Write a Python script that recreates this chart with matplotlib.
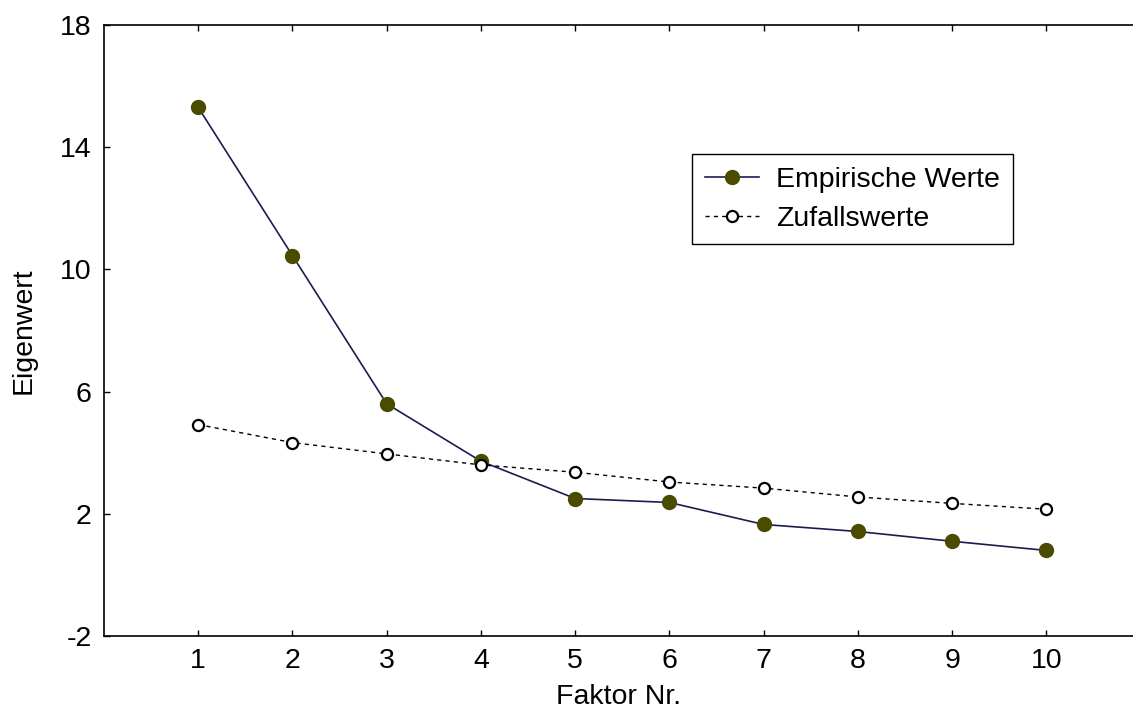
import matplotlib
matplotlib.use("Agg")
import matplotlib.pyplot as plt

faktoren = [1, 2, 3, 4, 5, 6, 7, 8, 9, 10]
empirisch = [15.3, 10.45, 5.6, 3.72, 2.5, 2.37, 1.65, 1.42, 1.1, 0.8]
zufall = [4.92, 4.33, 3.96, 3.6, 3.36, 3.04, 2.84, 2.55, 2.34, 2.15]
y_ticks = [-2, 2, 6, 10, 14, 18]

plt.rcParams['font.family'] = ['Liberation Sans', 'DejaVu Sans']
plt.rcParams['font.size'] = 20.5
plt.rcParams['axes.unicode_minus'] = False

fig = plt.figure(figsize=(11.33, 7.2), dpi=100)
ax = fig.add_axes([0.0918, 0.1167, 0.9082, 0.8486])

ax.plot(faktoren, empirisch, color='#1c1c50', lw=1.2, marker='o', ms=10,
        mfc='#4b4b00', mec='#4b4b00', label='Empirische Werte')
ax.plot(faktoren, zufall, color='black', lw=1.0, ls=(0, (3, 3)), marker='o', ms=8,
        mfc='white', mec='black', mew=1.6, label='Zufallswerte')

ax.set_xlim(0, 10.92)
ax.set_ylim(-2, 18)
ax.set_xticks(faktoren)
ax.set_yticks(y_ticks)
ax.tick_params(direction='in', length=4, width=1, top=True, right=False)
ax.tick_params(axis='x', pad=9)
ax.tick_params(axis='y', pad=9)
ax.spines['right'].set_visible(False)
for s in ['left', 'top', 'bottom']:
    ax.spines[s].set_linewidth(1.2)

ax.set_xlabel('Faktor Nr.', labelpad=7)
ax.set_ylabel('Eigenwert', labelpad=17)

leg = ax.legend(loc='upper left', bbox_to_anchor=(0.5714, 0.789), fancybox=False,
                edgecolor='black', framealpha=1, handlelength=1.9, borderpad=0.45,
                labelspacing=0.45, handletextpad=0.6, borderaxespad=0)
leg.get_frame().set_linewidth(1.0)

fig.savefig('out.png', dpi=100)
